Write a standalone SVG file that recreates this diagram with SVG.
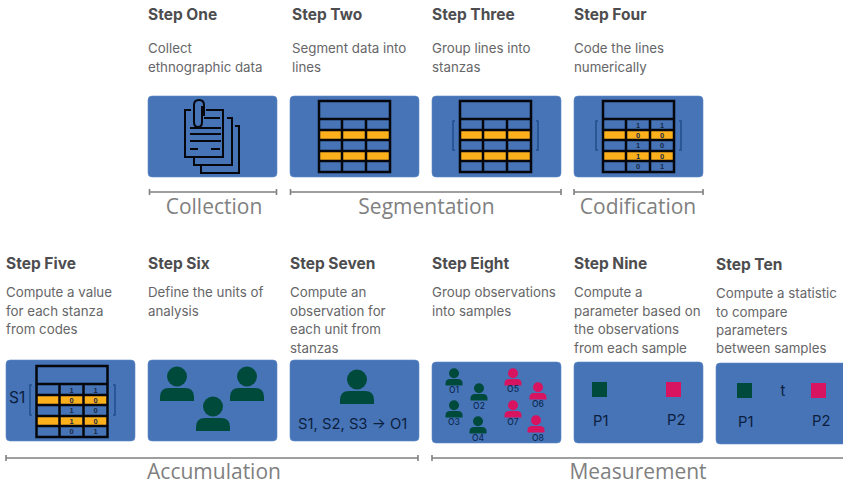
<svg xmlns="http://www.w3.org/2000/svg" width="843" height="484" viewBox="0 0 843 484">
<style>
.h{font:700 15.500px Inter,"Liberation Sans",sans-serif;fill:#4d4d4f}
.b{font:400 13.300px Inter,"Liberation Sans",sans-serif;fill:#666668}
.c{font:400 21px "Open Sans","Liberation Sans",sans-serif;fill:#808080;text-anchor:middle}
.p{fill:#4674b7;stroke:#5f8ac6;stroke-width:.6}
.r{stroke:#808080;stroke-width:1.6;fill:none}
.k{font:400 14.800px Inter,"Liberation Sans",sans-serif;fill:#0c1f3f}
.o{font:500 8.500px Inter,"Liberation Sans",sans-serif;fill:#0c2a52;text-anchor:middle}
.n{font:700 7.500px "Liberation Sans",sans-serif;fill:#1a2a44;text-anchor:middle}
.l{fill:none;stroke:#05070d;stroke-width:2}
.t{fill:none;stroke:#05070d;stroke-width:2.500}
.br{fill:none;stroke:#1f4d8c;stroke-width:1.500}
</style>
<defs>
<g id="table">
<rect x="0" y="28" width="71" height="11" fill="#fbb01c"/>
<rect x="0" y="50" width="71" height="10.500" fill="#fbb01c"/>
<rect class="t" x="0" y="0" width="71" height="71"/>
<path class="t" d="M0 18H71M0 29H71M0 39H71M0 50H71M0 60H71M23 18V71M47 18V71"/>
</g>
<g id="nums">
<text class="n" x="35" y="26.500">1</text><text class="n" x="59" y="26.500">1</text>
<text class="n" x="35" y="36.500">0</text><text class="n" x="59" y="36.500">0</text>
<text class="n" x="35" y="47">1</text><text class="n" x="59" y="47">0</text>
<text class="n" x="35" y="58">1</text><text class="n" x="59" y="58">0</text>
<text class="n" x="35" y="68">0</text><text class="n" x="59" y="68">1</text>
</g>
<g id="person">
<circle cx="0" cy="-11.500" r="10"/>
<path d="M-17 13V9Q-17 0-8 0H8Q17 0 17 9V13Z"/>
</g>
</defs>

<g id="connectors">
<path class="r" d="M149.500 192H276.500M149.500 189V195M276.500 189V195"/>
<path class="r" d="M290.500 192H561M290.500 189V195M561 189V195"/>
<path class="r" d="M574 192H703M574 189V195M703 189V195"/>
<path class="r" d="M6 458H418M6 455V461M418 455V461"/>
<path class="r" d="M432 458H843M432 455V461"/>
</g>

<g id="step1">
<text class="h" x="148" y="20">Step One</text>
<text class="b" x="148" y="53">Collect</text><text class="b" x="148" y="72">ethnographic data</text>
<rect class="p" x="148" y="96" width="129" height="81" rx="4"/>
<path class="l" d="M191 110H185V157H223V110H206M204 118H220M190 128H221M190 134H221M190 141H221M190 149H198M211 149H220"/>
<path class="l" d="M194 122V105Q194 100 199 100T204 105V116M194 122Q194 127 198 127T202 122V106"/>
<path class="l" d="M227 118H232V165H194V157M235 126H239V173H201V165"/>
</g>
<g id="step2">
<text class="h" x="292" y="20">Step Two</text>
<text class="b" x="292" y="53">Segment data into</text><text class="b" x="292" y="72">lines</text>
<rect class="p" x="290" y="96" width="129" height="81" rx="4"/>
<use href="#table" x="319" y="101"/>
</g>
<g id="step3">
<text class="h" x="432" y="20">Step Three</text>
<text class="b" x="432" y="53">Group lines into</text><text class="b" x="432" y="72">stanzas</text>
<rect class="p" x="432" y="96" width="129" height="81" rx="4"/>
<use href="#table" x="460" y="101"/>
<path class="br" d="M455 121H453V150H455M536 121H538V150H536"/>
</g>
<g id="step4">
<text class="h" x="574" y="20">Step Four</text>
<text class="b" x="574" y="53">Code the lines</text><text class="b" x="574" y="72">numerically</text>
<rect class="p" x="574" y="96" width="129" height="81" rx="4"/>
<use href="#table" x="603" y="101"/><use href="#nums" x="603" y="101"/>
<path class="br" d="M598 121H596V150H598M679 121H681V150H679"/>
</g>

<g id="step5">
<text class="h" x="6" y="269">Step Five</text>
<text class="b" x="6" y="297">Compute a value</text><text class="b" x="6" y="316">for each stanza</text><text class="b" x="6" y="334">from codes</text>
<rect class="p" x="6" y="360" width="129" height="81" rx="4"/>
<use href="#table" x="36.500" y="366"/><use href="#nums" x="36.500" y="366"/>
<path class="br" d="M32 385H30V415H32M113 385H115V415H113"/>
<text class="k" x="9" y="403" style="font-size:15.500px">S1</text>
</g>
<g id="step6">
<text class="h" x="148" y="269">Step Six</text>
<text class="b" x="148" y="297">Define the units of</text><text class="b" x="148" y="316">analysis</text>
<rect class="p" x="148" y="360" width="129" height="81" rx="4"/>
<use href="#person" x="177" y="388" fill="#004a3c"/>
<use href="#person" x="213" y="418" fill="#004a3c"/>
<use href="#person" x="247" y="388" fill="#004a3c"/>
</g>
<g id="step7">
<text class="h" x="290" y="269">Step Seven</text>
<text class="b" x="290" y="297">Compute an</text><text class="b" x="290" y="316">observation for</text><text class="b" x="290" y="334">each unit from</text><text class="b" x="290" y="353">stanzas</text>
<rect class="p" x="290" y="360" width="129" height="81" rx="4"/>
<use href="#person" x="357" y="391" fill="#004a3c"/>
<text class="k" x="298" y="429">S1, S2, S3 → O1</text>
</g>
<g id="step8">
<text class="h" x="432" y="269">Step Eight</text>
<text class="b" x="432" y="297">Group observations</text><text class="b" x="432" y="316">into samples</text>
<rect class="p" x="432" y="362" width="129" height="81" rx="4"/>
<g fill="#004a3c">
<use href="#person" transform="translate(454 379) scale(.5)"/>
<use href="#person" transform="translate(479 394) scale(.5)"/>
<use href="#person" transform="translate(454 411) scale(.5)"/>
<use href="#person" transform="translate(478 427) scale(.5)"/>
</g>
<g fill="#d8135f">
<use href="#person" transform="translate(513 379) scale(.5)"/>
<use href="#person" transform="translate(538 393) scale(.5)"/>
<use href="#person" transform="translate(513 411) scale(.5)"/>
<use href="#person" transform="translate(536 426) scale(.5)"/>
</g>
<text class="o" x="454" y="393">O1</text><text class="o" x="479" y="409">O2</text><text class="o" x="454" y="425">O3</text><text class="o" x="478" y="441">O4</text>
<text class="o" x="513" y="392">O5</text><text class="o" x="538" y="407">O6</text><text class="o" x="513" y="425">O7</text><text class="o" x="538" y="441">O8</text>
</g>
<g id="step9">
<text class="h" x="574" y="269">Step Nine</text>
<text class="b" x="574" y="297">Compute a</text><text class="b" x="574" y="316">parameter based on</text><text class="b" x="574" y="334">the observations</text><text class="b" x="574" y="353">from each sample</text>
<rect class="p" x="574" y="362" width="129" height="81" rx="4"/>
<rect x="592" y="382" width="15" height="15" fill="#004a3c"/>
<rect x="666" y="382" width="15" height="15" fill="#d8135f"/>
<text class="k" x="593" y="426">P1</text><text class="k" x="667" y="425">P2</text>
</g>
<g id="step10">
<text class="h" x="716" y="270">Step Ten</text>
<text class="b" x="716" y="298">Compute a statistic</text><text class="b" x="716" y="317">to compare</text><text class="b" x="716" y="335">parameters</text><text class="b" x="716" y="353">between samples</text>
<rect class="p" x="716" y="363" width="140" height="81" rx="4"/>
<rect x="737" y="383" width="15" height="15" fill="#004a3c"/>
<rect x="811" y="383" width="15" height="15" fill="#d8135f"/>
<text class="k" x="783" y="396" text-anchor="middle" font-weight="700">t</text>
<text class="k" x="738" y="427">P1</text><text class="k" x="812" y="426">P2</text>
</g>
<g id="labels">
<text class="c" x="214" y="214">Collection</text>
<text class="c" x="426.500" y="214">Segmentation</text>
<text class="c" x="638" y="214">Codification</text>
<text class="c" x="214" y="479">Accumulation</text>
<text class="c" x="638" y="479">Measurement</text>
</g>
</svg>
